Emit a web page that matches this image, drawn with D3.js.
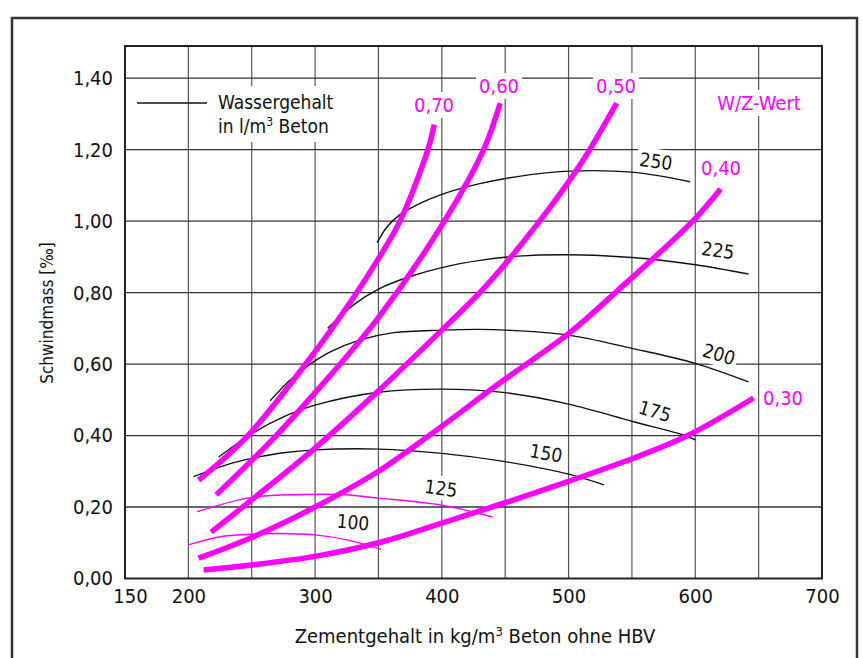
<!DOCTYPE html>
<html>
<head>
<meta charset="utf-8">
<script src="https://cdn.jsdelivr.net/npm/d3@7"></script>
<style>
  html, body { margin: 0; padding: 0; background: #fff; }
  svg { display: block; }
  text { font-family: "DejaVu Sans Condensed", "DejaVu Sans", sans-serif; font-stretch: condensed; }
</style>
</head>
<body>
<svg id="chart" width="862" height="658"></svg>
<script>
// ---------- data ----------
const xTicks = [150, 200, 300, 400, 500, 600, 700];
const xGrid = [200, 250, 300, 350, 400, 450, 500, 550, 600, 650];
const yTicks = [0, 0.2, 0.4, 0.6, 0.8, 1.0, 1.2, 1.4];
const yTickLabels = ["0,00", "0,20", "0,40", "0,60", "0,80", "1,00", "1,20", "1,40"];

// W/Z-Wert (thick magenta)
const wzNames = ["0,70", "0,60", "0,50", "0,40", "0,30"];
const wz070 = [[208,0.275],[247,0.40],[300,0.635],[330,0.785],[350,0.895],[367,1.0],[389,1.2],[394,1.27]];
const wz060 = [[222,0.234],[268,0.395],[300,0.52],[350,0.73],[402,1.0],[433,1.2],[446,1.33]];
const wz050 = [[218,0.13],[250,0.22],[300,0.365],[350,0.525],[400,0.695],[430,0.80],[450,0.88],[475,0.99],[500,1.11],[515,1.19],[538,1.33]];
const wz040 = [[208,0.057],[250,0.115],[300,0.20],[350,0.30],[390,0.40],[450,0.558],[500,0.685],[537,0.80],[598,1.0],[620,1.09]];
const wz030 = [[212,0.024],[250,0.038],[300,0.062],[350,0.10],[400,0.155],[450,0.212],[500,0.272],[550,0.335],[594,0.40],[646,0.505]];

// Wassergehalt in l/m3 Beton
const wgNames = ["250", "225", "200", "175", "150", "125", "100"];
const wg250 = [[349,0.94],[357,0.985],[367,1.018],[380,1.045],[400,1.075],[430,1.105],[470,1.13],[500,1.14],[550,1.137],[596,1.11]];
const wg225 = [[310,0.70],[330,0.765],[350,0.81],[375,0.845],[400,0.87],[430,0.89],[460,0.902],[500,0.906],[550,0.898],[600,0.878],[642,0.852]];
const wg200 = [[264.5,0.497],[280,0.555],[295,0.597],[312,0.634],[335,0.667],[362,0.688],[400,0.695],[430,0.697],[450,0.695],[500,0.681],[550,0.644],[600,0.602],[642,0.55]];
const wg175 = [[224,0.34],[250,0.405],[275,0.452],[300,0.485],[350,0.521],[400,0.53],[450,0.52],[500,0.488],[550,0.44],[592,0.40],[600,0.388]];
const wg150 = [[204,0.285],[230,0.318],[250,0.336],[275,0.352],[300,0.36],[350,0.362],[400,0.35],[450,0.327],[500,0.292],[528,0.262]];
const wg125 = [[207,0.187],[250,0.227],[290,0.235],[320,0.235],[350,0.225],[400,0.205],[440,0.172]];
const wg100 = [[200,0.094],[225,0.117],[250,0.124],[272,0.126],[300,0.122],[325,0.108],[352,0.082]];

// ---------- setup ----------
const MAG = "#ff00ff";
const svg = d3.select("#chart");
const x = d3.scaleLinear().domain([150, 700]).range([125, 822]);
const y = d3.scaleLinear().domain([0, 1.49]).range([578.5, 46]);
const line = d3.line().x(d => x(d[0])).y(d => y(d[1])).curve(d3.curveCatmullRom.alpha(0.5));

// outer frame
svg.append("rect").attr("x", 12).attr("y", 18).attr("width", 845).attr("height", 700)
  .attr("fill", "none").attr("stroke", "#333").attr("stroke-width", 2.5);

// grid
const g = svg.append("g");
g.selectAll(".vg").data(xGrid).join("line")
  .attr("x1", d => x(d)).attr("x2", d => x(d))
  .attr("y1", y(0)).attr("y2", y(1.49))
  .attr("stroke", "#555").attr("stroke-width", 1.2);
g.selectAll(".hg").data(yTicks.filter(d => d > 0)).join("line")
  .attr("x1", x(150)).attr("x2", x(700))
  .attr("y1", d => y(d)).attr("y2", d => y(d))
  .attr("stroke", "#333").attr("stroke-width", 1.3);

// axes (labels only, no tick marks)
const yAxis = d3.axisLeft(y).tickValues(yTicks).tickSize(0).tickPadding(12)
  .tickFormat((d, i) => yTickLabels[i]);
const ya = svg.append("g").attr("transform", `translate(${x(150)},0)`).call(yAxis);
ya.select(".domain").remove();
ya.selectAll("text").attr("font-size", 20).attr("fill", "#111")
  .attr("font-family", "'DejaVu Sans Condensed','DejaVu Sans',sans-serif");

const xAxis = d3.axisBottom(x).tickValues(xTicks).tickSize(0).tickPadding(10);
const xa = svg.append("g").attr("transform", `translate(0,${y(0)})`).call(xAxis);
xa.select(".domain").remove();
xa.selectAll("text").attr("font-size", 20).attr("fill", "#111")
  .attr("font-family", "'DejaVu Sans Condensed','DejaVu Sans',sans-serif")
  .attr("dx", d => d === 150 ? 5 : 0);

// plot border
svg.append("rect").attr("x", x(150)).attr("y", y(1.49))
  .attr("width", x(700) - x(150)).attr("height", y(0) - y(1.49))
  .attr("fill", "none").attr("stroke", "#222").attr("stroke-width", 2);

// axis titles
svg.append("text").attr("x", 475).attr("y", 643).attr("text-anchor", "middle")
  .attr("font-size", 20).attr("fill", "#111")
  .html('Zementgehalt in kg/m<tspan baseline-shift="super" font-size="13">3</tspan> Beton ohne HBV');
svg.append("text").attr("transform", "translate(53,313) rotate(-90)").attr("text-anchor", "middle")
  .attr("font-size", 17).attr("fill", "#111").text("Schwindmass [‰]");

// labels layer (with white background boxes that break the grid)
const bgLayer = svg.append("g");
const curveLayer = svg.append("g");
const textLayer = svg.append("g");

function label(txt, cx, cy, color, rot, size) {
  const t = textLayer.append("text")
    .attr("x", 0).attr("y", 0)
    .attr("text-anchor", "middle").attr("dominant-baseline", "central")
    .attr("font-size", size || 19).attr("fill", color).text(txt)
    .attr("transform", `translate(${cx},${cy}) rotate(${rot || 0})`);
  const b = t.node().getBBox();
  bgLayer.append("rect")
    .attr("x", b.x - 3).attr("y", b.y - 1).attr("width", b.width + 6).attr("height", b.height + 2)
    .attr("fill", "#fff")
    .attr("transform", `translate(${cx},${cy}) rotate(${rot || 0})`);
}

// legend
const lg = svg.append("g");
lg.append("rect").attr("x", 213).attr("y", 86).attr("width", 132).attr("height", 56).attr("fill", "#fff");
lg.append("line").attr("x1", 137).attr("x2", 207).attr("y1", 103).attr("y2", 103)
  .attr("stroke", "#111").attr("stroke-width", 1.5);
lg.append("text").attr("x", 218).attr("y", 109).attr("font-size", 19).attr("fill", "#111").text("Wassergehalt");
lg.append("text").attr("x", 218).attr("y", 133).attr("font-size", 19).attr("fill", "#111")
  .html('in l/m<tspan baseline-shift="super" font-size="12">3</tspan> Beton');

// curves
const wgData = [wg250, wg225, wg200, wg175, wg150, wg125, wg100];
const wgColors = ["#111", "#111", "#111", "#111", "#111", MAG, MAG];
curveLayer.selectAll(".wg").data(wgData).join("path")
  .attr("d", line).attr("fill", "none")
  .attr("stroke", (d, i) => wgColors[i]).attr("stroke-width", 1.4);

const wzData = [wz070, wz060, wz050, wz040, wz030];
curveLayer.selectAll(".wz").data(wzData).join("path")
  .attr("d", line).attr("fill", "none")
  .attr("stroke", MAG).attr("stroke-width", 5.5).attr("stroke-linecap", "butt");

// W/Z labels
const wzLabelPos = [[434,105],[499,86],[616,86],[721,168],[783,398]];
wzNames.forEach((n, i) => label(n, wzLabelPos[i][0], wzLabelPos[i][1], MAG, 0, 20));
label("W/Z-Wert", 759, 103, MAG, 0, 20);

// Wassergehalt labels
const wgLabelPos = [[656,161,8],[718,250,8],[719,354,17],[655,411,17],[546,453,10],[441,488,8],[353,522,5]];
wgNames.forEach((n, i) => label(n, wgLabelPos[i][0], wgLabelPos[i][1], "#111", wgLabelPos[i][2], 19));
</script>
</body>
</html>
